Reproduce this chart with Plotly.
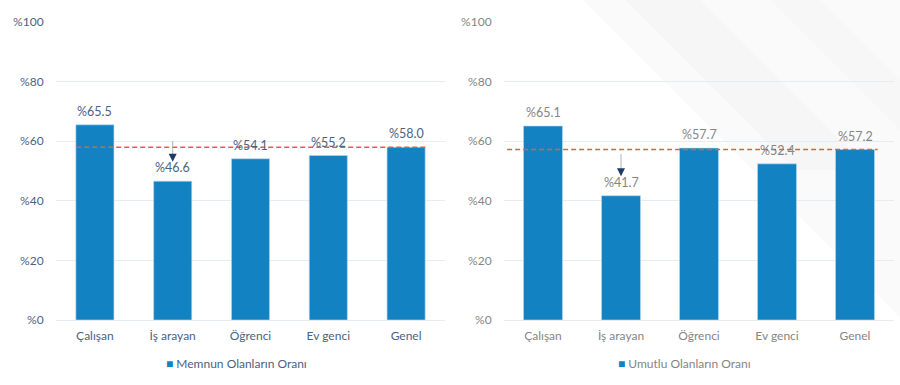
import plotly.graph_objects as go

categories = ["Çalışan", "İş arayan", "Öğrenci", "Ev genci", "Genel"]
memnun = [65.5, 46.6, 54.1, 55.2, 58.0]
umutlu = [65.1, 41.7, 57.7, 52.4, 57.2]
memnun_avg = 58.0
umutlu_avg = 57.2
y_ticks = [0, 20, 40, 60, 80, 100]
y_ticktext = ["%0", "%20", "%40", "%60", "%80", "%100"]
series_names = ["Memnun Olanların Oranı", "Umutlu Olanların Oranı"]

BAR = "#1382C3"
FONT = "Lato, Carlito, 'Liberation Sans', sans-serif"
LEFT_TXT = "#4a6285"
RIGHT_TXT = "#858585"

fig = go.Figure()

fig.add_trace(go.Bar(x=categories, y=memnun, name=series_names[0],
                     marker=dict(color=BAR, line=dict(color="#bcdcf0", width=0.6)),
                     width=0.49, xaxis="x", yaxis="y", showlegend=False))
fig.add_trace(go.Bar(x=categories, y=umutlu, name=series_names[1],
                     marker=dict(color=BAR, line=dict(color="#bcdcf0", width=0.6)),
                     width=0.5, xaxis="x2", yaxis="y2", showlegend=False))

ydom = [65 / 385, 363 / 385]
common_y = dict(range=[0, 100], tickvals=y_ticks, ticktext=y_ticktext,
                showgrid=True, gridcolor="#e7ecf1", gridwidth=1,
                zeroline=False, showline=False, ticks="outside", ticklen=9,
                tickcolor="rgba(0,0,0,0)", fixedrange=True)
fig.update_layout(
    width=900, height=385,
    margin=dict(l=0, r=0, t=0, b=0, autoexpand=False),
    paper_bgcolor="white", plot_bgcolor="rgba(0,0,0,0)",
    font=dict(family=FONT),
    showlegend=False,
    xaxis=dict(domain=[56 / 900, 445 / 900], anchor="y", showgrid=False,
               showline=True, linecolor="#e7ecf1", ticks="outside", ticklen=5,
               tickcolor="rgba(0,0,0,0)", automargin=False, fixedrange=True,
               tickfont=dict(size=12, color=LEFT_TXT), range=[-0.5, 4.5]),
    yaxis=dict(domain=ydom, anchor="x", automargin=False,
               tickfont=dict(size=12, color=LEFT_TXT), **common_y),
    xaxis2=dict(domain=[504 / 900, 894 / 900], anchor="y2", showgrid=False,
                showline=True, linecolor="#ebebeb", ticks="outside", ticklen=5,
                tickcolor="rgba(0,0,0,0)", automargin=False, fixedrange=True,
                tickfont=dict(size=12, color=RIGHT_TXT), range=[-0.5, 4.5]),
    yaxis2=dict(domain=ydom, anchor="x2", automargin=False,
                tickfont=dict(size=12, color=RIGHT_TXT), **common_y),
)

# faint background diagonal bands (top right)
def P(x, y):
    return f"{x / 900:.4f} {1 - y / 385:.4f}"

bands = [
    ([(583, 0), (900, 0), (900, 317)], "rgba(0,0,0,0.018)"),
    ([(625, 0), (700, 0), (870, 170), (795, 170)], "rgba(0,0,0,0.014)"),
    ([(770, 0), (820, 0), (900, 80), (900, 130)], "rgba(0,0,0,0.012)"),
]
for pts, col in bands:
    path = "M " + " L ".join(P(x, y) for x, y in pts) + " Z"
    fig.add_shape(type="path", xref="paper", yref="paper", path=path,
                  fillcolor=col, line=dict(width=0), layer="below")

# average dashed lines
fig.add_shape(type="line", xref="x", yref="y", x0=-0.24, x1=4.27,
              y0=memnun_avg, y1=memnun_avg,
              line=dict(color="#E0603A", width=1.5, dash="5px,3px"), layer="above")
fig.add_shape(type="line", xref="x2", yref="y2", x0=-0.46, x1=4.29,
              y0=umutlu_avg, y1=umutlu_avg,
              line=dict(color="#E0603A", width=1.5, dash="5px,3px"), layer="above")

# value labels
for c, v in zip(categories, memnun):
    fig.add_annotation(x=c, y=v, xref="x", yref="y", text=f"%{v:.1f}",
                       showarrow=False, yanchor="bottom", yshift=4,
                       font=dict(size=12.5, color=LEFT_TXT))
for c, v in zip(categories, umutlu):
    fig.add_annotation(x=c, y=v, xref="x2", yref="y2", text=f"%{v:.1f}",
                       showarrow=False, yanchor="bottom", yshift=4,
                       font=dict(size=12.5, color=RIGHT_TXT))

# arrows: thin gray stem + navy head
arrows = [("x", "y", memnun[1] + 6.5, 60.0), ("x2", "y2", umutlu[1] + 6.5, 55.7)]
for xr, yr, tip, top in arrows:
    fig.add_shape(type="line", xref=xr, yref=yr, x0=categories[1], x1=categories[1],
                  y0=top, y1=tip + 1, line=dict(color="#9aa3b0", width=0.8))
    fig.add_annotation(x=categories[1], y=tip, xref=xr, yref=yr,
                       ax=categories[1], ay=tip + 2.2, axref=xr, ayref=yr,
                       showarrow=True, arrowhead=2, arrowsize=2, arrowwidth=0.8,
                       arrowcolor="#1f3a64", text="")

# legends as text
fig.add_annotation(x=236 / 900, y=22 / 385, xref="paper", yref="paper",
                   xanchor="center", yanchor="middle",
                   text=f"<span style='color:{BAR}'>■</span> {series_names[0]}",
                   showarrow=False, font=dict(size=12, color=LEFT_TXT))
fig.add_annotation(x=684 / 900, y=22 / 385, xref="paper", yref="paper",
                   xanchor="center", yanchor="middle",
                   text=f"<span style='color:{BAR}'>■</span> {series_names[1]}",
                   showarrow=False, font=dict(size=12, color=RIGHT_TXT))

fig.write_html("out.html", config={"displayModeBar": False},
               post_script="document.body.style.margin='0';")
